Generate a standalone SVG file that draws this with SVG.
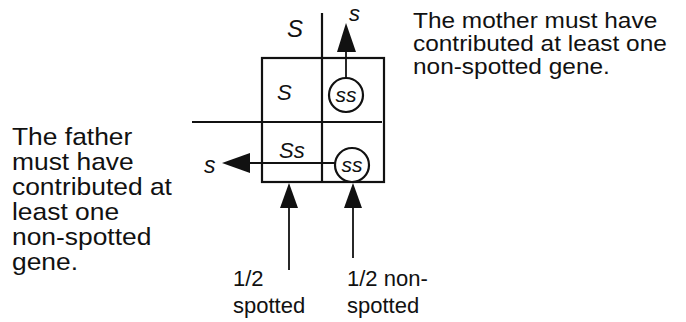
<svg xmlns="http://www.w3.org/2000/svg" width="686" height="322" viewBox="0 0 686 322">
  <style>
    .note { font-family: "Liberation Sans", Arial, sans-serif; fill: #111; }
    .gene { font-family: "Liberation Sans", Arial, sans-serif; font-style: italic; fill: #111; }
    .ln { stroke: #111; stroke-width: 2.2; fill: none; }
    .shaft { stroke: #111; stroke-width: 1.8; fill: none; }
    .ring { stroke: #111; stroke-width: 2.2; fill: #fff; }
    .head { fill: #111; }
  </style>

  <!-- Punnett square -->
  <g id="square">
    <rect class="ln" x="262" y="58" width="122" height="124"/>
    <line class="ln" x1="322" y1="13" x2="322" y2="182"/>
    <line class="ln" x1="192" y1="122" x2="382" y2="122"/>
    <text class="gene" x="287" y="37" font-size="24">S</text>
    <text class="gene" x="277" y="100" font-size="22">S</text>
    <text class="gene" x="279" y="158" font-size="22">Ss</text>
  </g>

  <g id="cell-ss-top">
    <circle class="ring" cx="346" cy="95" r="17"/>
    <text class="gene" x="346" y="102" font-size="21" text-anchor="middle">ss</text>
  </g>

  <g id="cell-ss-bottom">
    <circle class="ring" cx="352" cy="165" r="17"/>
    <text class="gene" x="352" y="172" font-size="21" text-anchor="middle">ss</text>
  </g>

  <!-- connectors -->
  <g id="connectors">
    <line class="shaft" x1="346" y1="78" x2="346" y2="52"/>
    <path class="head" d="M346,23 L337,52 L356,52 Z"/>
    <line class="shaft" x1="335" y1="163" x2="250" y2="163"/>
    <path class="head" d="M222,163 L250,153 L250,173 Z"/>
    <line class="shaft" x1="289" y1="270" x2="289" y2="208"/>
    <path class="head" d="M289,183 L280,208 L298,208 Z"/>
    <line class="shaft" x1="353" y1="258" x2="353" y2="208"/>
    <path class="head" d="M353,183 L344,208 L362,208 Z"/>
  </g>

  <g id="allele-labels">
    <text class="gene" x="349" y="21" font-size="22">s</text>
    <text class="gene" x="204" y="173" font-size="23">s</text>
  </g>

  <g id="mother-note" transform="translate(413,0) scale(1.11,1)">
    <text class="note" font-size="22"><tspan x="0" y="28">The mother must have</tspan><tspan x="0" y="51">contributed at least one</tspan><tspan x="0" y="74">non-spotted gene.</tspan></text>
  </g>

  <g id="father-note" transform="translate(12,0) scale(1.1,1)">
    <text class="note" font-size="24"><tspan x="0" y="145">The father</tspan><tspan x="0" y="170">must have</tspan><tspan x="0" y="195">contributed at</tspan><tspan x="0" y="220">least one</tspan><tspan x="0" y="245">non-spotted</tspan><tspan x="0" y="270">gene.</tspan></text>
  </g>

  <g id="spotted-note">
    <text class="note" font-size="22"><tspan x="233" y="286">1/2</tspan><tspan x="233" y="313">spotted</tspan></text>
  </g>

  <g id="nonspotted-note">
    <text class="note" font-size="22"><tspan x="347" y="286">1/2 non-</tspan><tspan x="347" y="313">spotted</tspan></text>
  </g>
</svg>
